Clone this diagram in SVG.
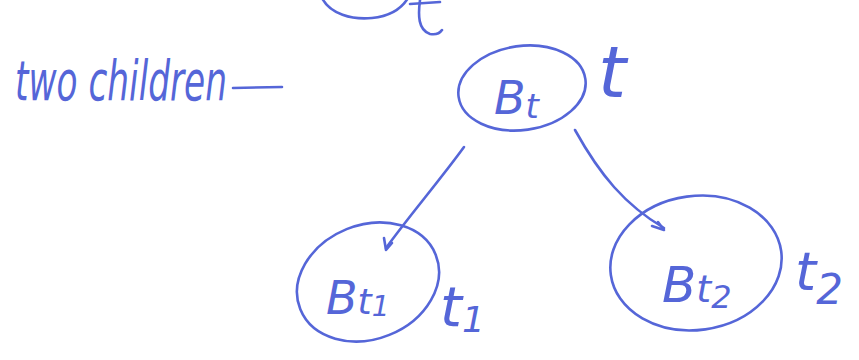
<svg xmlns="http://www.w3.org/2000/svg" width="859" height="360" viewBox="0 0 859 360">
<style>
.ink{fill:none;stroke:#5566d8;stroke-width:2.6;stroke-linecap:round;stroke-linejoin:round}
.t{fill:#5566d8;font-family:"DejaVu Sans",sans-serif;font-style:italic}
</style>
<rect width="859" height="360" fill="#fff"/>
<g id="top-partial">
<path class="ink" d="M322,-2 C330,14 352,20 372,18 C392,16 402,8 408,-2"/>
<path class="ink" d="M420,0 C418,15 418,30 430,34 C436,35 440,33 442,30"/>
<path class="ink" d="M410,4 L440,2"/>
</g>
<g id="title">
<text class="t" x="15" y="100" font-size="56" textLength="212" lengthAdjust="spacingAndGlyphs">two children</text>
<path class="ink" d="M233,88 L282,87"/>
</g>
<g id="connectors">
<path class="ink" d="M464,147 C440,180 410,215 386,248"/>
<path class="ink" d="M384,238 L386,250 L392,243"/>
<path class="ink" d="M575,130 C600,175 625,205 664,228"/>
<path class="ink" d="M658,222 L664,230 L652,226"/>
</g>
<g id="node-Bt">
<ellipse class="ink" cx="522" cy="88" rx="64" ry="42" transform="rotate(-8 522 88)"/>
<text class="t" x="494" y="114" font-size="46">B<tspan font-size="34" dy="4">t</tspan></text>
<text class="t" x="598" y="97" font-size="72">t</text>
</g>
<g id="node-Bt1">
<ellipse class="ink" cx="368" cy="282" rx="73" ry="57" transform="rotate(-22 368 282)"/>
<text class="t" x="326" y="314" font-size="46">B<tspan font-size="36">t</tspan><tspan font-size="28" dy="2">1</tspan></text>
<text class="t" x="440" y="326" font-size="56">t<tspan font-size="36" dy="6">1</tspan></text>
</g>
<g id="node-Bt2">
<ellipse class="ink" cx="696" cy="263" rx="86" ry="67" transform="rotate(-8 696 263)"/>
<text class="t" x="662" y="302" font-size="50">B<tspan font-size="38">t</tspan><tspan font-size="32" dy="6">2</tspan></text>
<text class="t" x="795" y="290" font-size="54">t<tspan font-size="42" dy="14">2</tspan></text>
</g>
</svg>
